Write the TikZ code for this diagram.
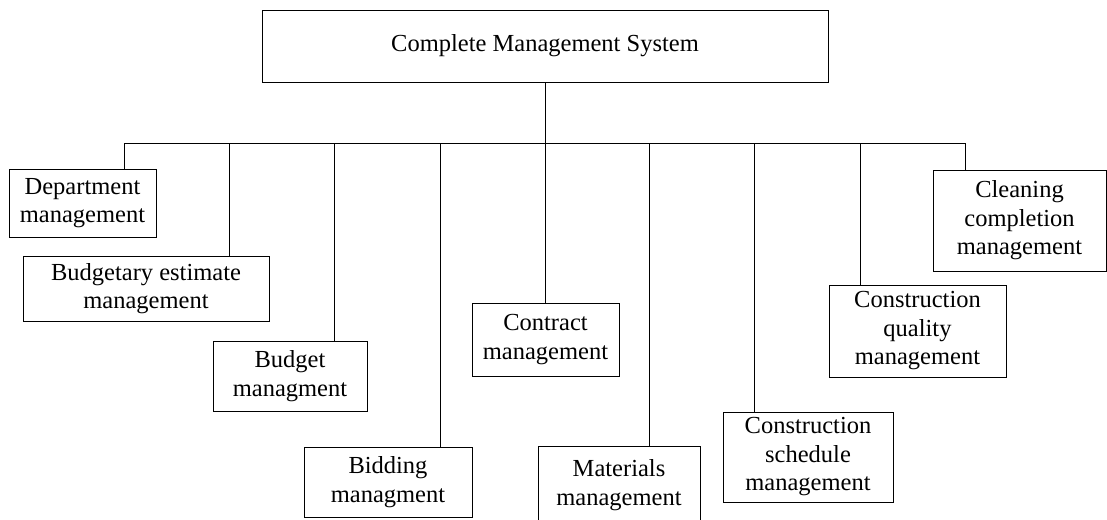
\documentclass[tikz,border=0pt]{standalone}
\usepackage{fontspec}
\setmainfont{Liberation Serif}
\begin{document}
\begin{tikzpicture}[x=1pt,y=-1pt,
  box/.style={draw, line width=0.8pt, inner sep=0pt, align=center,
    font=\fontsize{24.5}{28.5}\selectfont},
  link/.style={line width=0.8pt}]
\useasboundingbox (0,0) rectangle (1107,519);
\node[box, minimum width=566, minimum height=72] (root) at (545,46) {Complete Management System};
\node[box, minimum width=147, minimum height=68] (dept) at (82.5,203) {Department\\management};
\node[box, minimum width=246, minimum height=65] (bgest) at (146,288.5) {Budgetary estimate\\management};
\node[box, minimum width=154, minimum height=70] (budget) at (290,376) {Budget\\managment};
\node[box, minimum width=168, minimum height=70] (bid) at (388,482) {Bidding\\managment};
\node[box, minimum width=147, minimum height=73] (contract) at (545.5,339.5) {Contract\\management};
\node[box, minimum width=162, minimum height=78] (mat) at (619,485) {Materials\\management};
\node[box, minimum width=170, minimum height=90] (sched) at (808,457) {Construction\\schedule\\management};
\node[box, minimum width=177, minimum height=92] (qual) at (917.5,331) {Construction\\quality\\management};
\node[box, minimum width=173, minimum height=101] (clean) at (1019.5,220.5) {Cleaning\\completion\\management};
\coordinate (c1) at (124,143);
\coordinate (c2) at (229,143);
\coordinate (c3) at (334,143);
\coordinate (c4) at (440,143);
\coordinate (c5) at (545,143);
\coordinate (c6) at (649,143);
\coordinate (c7) at (754,143);
\coordinate (c8) at (860,143);
\coordinate (c9) at (965,143);
\draw[link] (root.south) -- (c5);
\draw[link] (c1) -- (c9);
\draw[link] (c1) -- (c1 |- dept.north);
\draw[link] (c2) -- (c2 |- bgest.north);
\draw[link] (c3) -- (c3 |- budget.north);
\draw[link] (c4) -- (c4 |- bid.north);
\draw[link] (c5) -- (c5 |- contract.north);
\draw[link] (c6) -- (c6 |- mat.north);
\draw[link] (c7) -- (c7 |- sched.north);
\draw[link] (c8) -- (c8 |- qual.north);
\draw[link] (c9) -- (c9 |- clean.north);
\end{tikzpicture}
\end{document}
